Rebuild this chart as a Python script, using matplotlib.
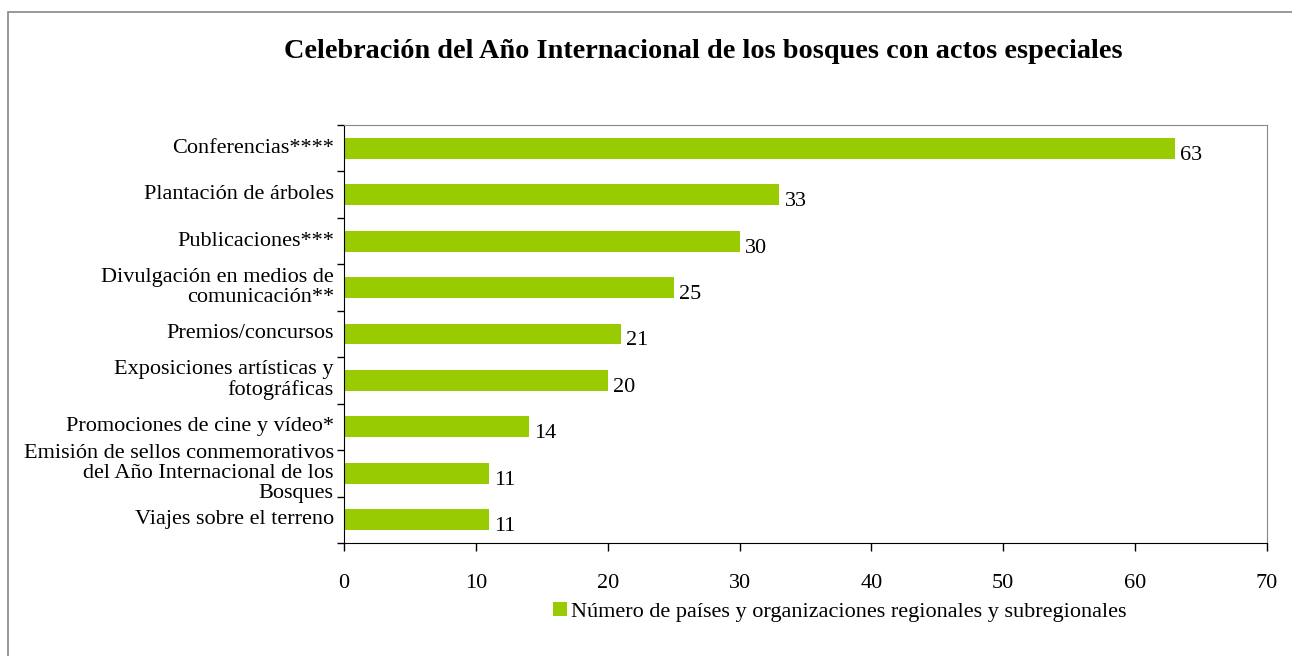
import matplotlib.pyplot as plt
from matplotlib.patches import Rectangle

categories = ["Conferencias****", "Plantación de árboles", "Publicaciones***",
              "Divulgación en medios de\ncomunicación**", "Premios/concursos",
              "Exposiciones artísticas y\nfotográficas", "Promociones de cine y vídeo*",
              "Emisión de sellos conmemorativos\ndel Año Internacional de los\nBosques",
              "Viajes sobre el terreno"]
values = [63, 33, 30, 25, 21, 20, 14, 11, 11]
xticks = [0, 10, 20, 30, 40, 50, 60, 70]
series_name = "Número de países y organizaciones regionales y subregionales"

plt.rcParams['font.family'] = ['Liberation Serif', 'DejaVu Serif']
green = "#99CC00"
fs = 16

fig = plt.figure(figsize=(12.92, 6.56), dpi=100)
ax = fig.add_axes([344/1292, 1-543/656, (1267-344)/1292, (543-125)/656])

n = len(categories)
pos = list(range(n))
ax.barh(pos, values, height=0.45, color=green, label=series_name)
ax.set_ylim(n - 0.5, -0.5)
ax.set_xlim(0, 70)
ax.set_xticks(xticks)
ax.set_xticklabels([str(t) for t in xticks], fontsize=fs)

# category labels between boundary ticks
ax.set_yticks([p + 0.5 for p in range(-1, n)])
ax.set_yticklabels([])
for p, c in zip(pos, categories):
    ax.text(-0.011, p, c, transform=ax.get_yaxis_transform(), ha="right", va="center",
            fontsize=fs, multialignment="right", linespacing=1.08)

for p, v in zip(pos, values):
    ax.annotate(str(v), (v, p), xytext=(4, -5), textcoords="offset points",
                ha="left", va="center", fontsize=fs)

ax.tick_params(axis="both", direction="out", length=6, width=1, color="black")
ax.tick_params(axis="x", pad=16)
ax.tick_params(axis="y", length=5)
for s in ["top", "right"]:
    ax.spines[s].set_color("#888888")
for s in ["left", "bottom"]:
    ax.spines[s].set_color("black")

fig.text(703/1292, 1-51/656, "Celebración del Año Internacional de los bosques con actos especiales",
         ha="center", va="center", fontsize=20.3, fontweight="bold")

fig.legend(loc="center", bbox_to_anchor=(840/1292, 1-612/656), frameon=False, fontsize=fs,
           handlelength=0.6, handleheight=0.6, handletextpad=0.2)

fig.patches.append(Rectangle((8/1292, -0.1), 1.2, 1 - 12/656 + 0.1, transform=fig.transFigure,
                             fill=False, edgecolor="#888888", linewidth=1.2))

fig.savefig("out.png", dpi=100)
